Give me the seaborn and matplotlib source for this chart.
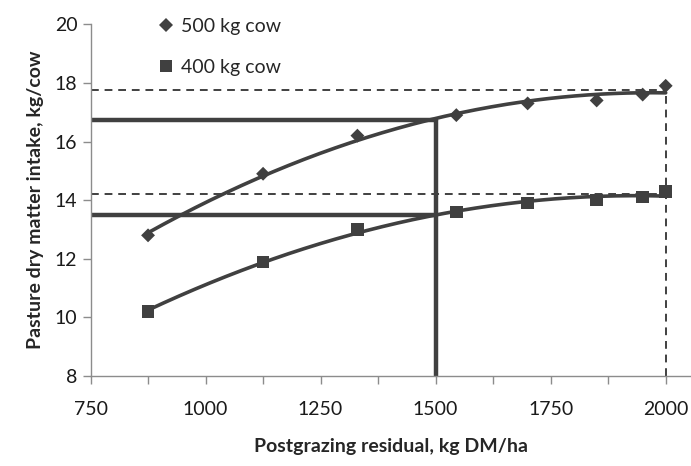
import numpy as np
import pandas as pd
import seaborn as sns
import matplotlib.pyplot as plt
from matplotlib.ticker import MultipleLocator

# values
residual = [875, 1125, 1330, 1545, 1700, 1850, 1950, 2000]
intake_500 = [12.8, 14.9, 16.2, 16.9, 17.3, 17.4, 17.6, 17.9]
intake_400 = [10.2, 11.9, 13.0, 13.6, 13.9, 14.0, 14.1, 14.3]
series_names = ['500 kg cow', '400 kg cow']

target_residual = 1500
target_500 = 16.75
target_400 = 13.5
max_residual = 2000
max_500 = 17.75
max_400 = 14.2

df = pd.DataFrame({
    'residual': residual * 2,
    'intake': intake_500 + intake_400,
    'cow': [series_names[0]] * len(residual) + [series_names[1]] * len(residual),
})

sns.set_style('white')
plt.rcParams['font.family'] = ['Lato', 'DejaVu Sans']

dark = '#404040'
fig = plt.figure(figsize=(6.91, 4.66), dpi=100)
ax = fig.add_axes([0.131, 0.193, 0.869, 0.755])

# quadratic trendlines, as in the spreadsheet original
xs = np.linspace(min(residual), max(residual), 200)
for vals in (intake_500, intake_400):
    coef = np.polyfit(residual, vals, 2)
    sns.lineplot(x=xs, y=np.polyval(coef, xs), color=dark, lw=2.6, ax=ax)

sns.scatterplot(data=df, x='residual', y='intake', hue='cow', style='cow',
                markers={series_names[0]: 'D', series_names[1]: 's'},
                palette={series_names[0]: dark, series_names[1]: dark},
                size='cow', sizes={series_names[0]: 50, series_names[1]: 80},
                edgecolor=dark, linewidth=0, ax=ax, zorder=5)

# reference lines
ax.plot([750, max_residual], [max_500, max_500], ls=(0, (4, 3)), color=dark, lw=1.4)
ax.plot([750, max_residual], [max_400, max_400], ls=(0, (4, 3)), color=dark, lw=1.4)
ax.plot([max_residual, max_residual], [8, max_500], ls=(0, (4, 3)), color=dark, lw=1.4)
ax.plot([750, target_residual], [target_500, target_500], color=dark, lw=3.2)
ax.plot([750, target_residual], [target_400, target_400], color=dark, lw=3.2)
ax.plot([target_residual, target_residual], [8, target_500], color=dark, lw=3.2)

ax.set_xlim(750, 2055)
ax.set_ylim(8, 20)
ax.xaxis.set_major_locator(MultipleLocator(250))
ax.xaxis.set_minor_locator(MultipleLocator(125))
ax.yaxis.set_major_locator(MultipleLocator(2))
for side in ('top', 'right'):
    ax.spines[side].set_visible(False)
for side in ('left', 'bottom'):
    ax.spines[side].set_color('#8c8c8c')
    ax.spines[side].set_linewidth(1.0)
ax.tick_params(axis='both', which='both', direction='out', color='#8c8c8c',
               length=6, width=1.0, labelsize=14, labelcolor='#1a1a1a',
               left=True, bottom=True)
ax.tick_params(axis='x', pad=12)

ax.set_xlabel('Postgrazing residual, kg DM/ha', fontsize=14, fontweight='bold',
              labelpad=14)
ax.set_ylabel('Pasture dry matter intake, kg/cow', fontsize=14, fontweight='bold',
              labelpad=8)

handles, labels = ax.get_legend_handles_labels()
leg = ax.legend(handles, labels, loc='upper left', bbox_to_anchor=(0.08, 1.04),
                frameon=False, fontsize=14, handletextpad=-0.2, labelspacing=1.25,
                borderaxespad=0)

plt.savefig('out.png', dpi=100)
